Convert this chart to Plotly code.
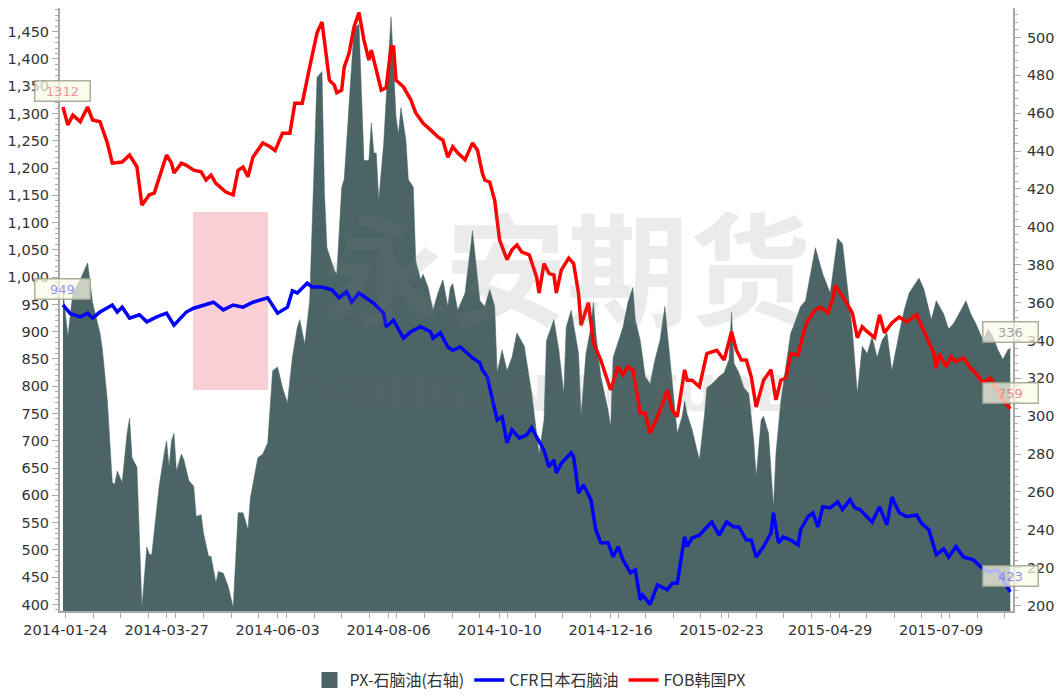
import plotly.graph_objects as go

# x positions are trading-day indices (0 = 2014-01-24)
tick_idx = [1, 42, 87, 132, 177, 222, 267, 311, 356]
tick_labels = ["2014-01-24", "2014-03-27", "2014-06-03", "2014-08-06", "2014-10-10",
               "2014-12-16", "2015-02-23", "2015-04-29", "2015-07-09"]

# PX - naphtha spread (right axis)
spread_t = [0, 2, 4, 7, 10, 12, 15, 16, 18, 20, 21, 22, 24, 25, 26, 27, 28, 30, 31, 32, 34, 35, 36, 38, 39,
            41, 42, 43, 44, 45, 46, 48, 49, 51, 53, 54, 56, 57, 59, 60, 62, 63, 65, 67, 69, 71, 73, 75, 76,
            77, 79, 81, 83, 85, 87, 89, 91, 93, 95, 96, 98, 100, 103, 105, 106, 107, 110, 111, 113, 114, 116,
            118, 120, 121, 122, 124, 125, 126, 127, 128, 130, 131, 133, 135, 136, 137, 139, 140, 142, 143,
            145, 146, 148, 150, 152, 154, 156, 157, 158, 160, 163, 166, 168, 169, 171, 173, 175, 176, 178,
            180, 182, 184, 187, 190, 193, 195, 196, 199, 201, 203, 204, 206, 209, 210, 212, 214, 215, 216,
            218, 221, 222, 223, 227, 229, 231, 232, 234, 236, 238, 240, 242, 244, 245, 247, 249, 251, 252,
            253, 255, 257, 258, 260, 261, 263, 266, 268, 270, 271, 272, 274, 276, 278, 280, 281, 283, 284,
            286, 288, 289, 291, 293, 295, 296, 299, 301, 305, 308, 311, 314, 316, 318, 320, 322, 324, 326,
            328, 330, 332, 334, 336, 339, 341, 343, 347, 349, 351, 352, 354, 357, 359, 361, 364, 366, 368,
            370, 373, 375, 377, 379, 381, 383, 384]
spread_v = [366, 342, 365, 372, 381, 360, 344, 335, 308, 265, 264, 271, 265, 278, 291, 299, 278, 273, 238,
            199, 231, 227, 227, 249, 263, 280, 287, 273, 287, 291, 271, 280, 277, 266, 263, 247, 248, 238,
            226, 226, 212, 218, 217, 210, 199, 249, 249, 240, 257, 264, 278, 280, 286, 324, 326, 315, 307,
            331, 347, 351, 338, 361, 479, 482, 418, 389, 377, 375, 421, 425, 467, 505, 507, 467, 435, 435,
            455, 439, 439, 414, 444, 467, 511, 458, 449, 463, 446, 425, 421, 382, 372, 375, 368, 356, 365,
            372, 358, 368, 370, 356, 365, 398, 375, 361, 358, 367, 358, 323, 335, 324, 331, 344, 337, 312,
            280, 298, 340, 351, 335, 312, 347, 356, 333, 300, 333, 347, 360, 344, 321, 303, 294, 331, 347,
            360, 368, 351, 340, 321, 317, 330, 340, 358, 344, 317, 291, 300, 308, 301, 293, 282, 277, 300,
            315, 317, 321, 323, 330, 355, 328, 323, 315, 312, 287, 268, 298, 300, 291, 252, 280, 308, 326,
            344, 347, 358, 361, 389, 375, 365, 394, 391, 368, 345, 312, 337, 333, 342, 331, 340, 344, 324,
            344, 356, 365, 373, 367, 356, 351, 361, 354, 346, 349, 356, 361, 354, 349, 340, 346, 342, 335,
            330, 335, 336]

# CFR Japan naphtha (left axis)
cfr_t = [0, 3, 7, 10, 12, 15, 20, 22, 24, 27, 31, 34, 38, 42, 45, 47, 50, 53, 57, 61, 65, 69, 73, 77, 83,
         87, 91, 93, 95, 99, 101, 105, 109, 112, 115, 117, 120, 123, 126, 130, 131, 134, 138, 141, 145, 149,
         150, 153, 156, 158, 161, 164, 166, 169, 170, 172, 174, 176, 178, 180, 182, 185, 188, 190, 192, 195,
         197, 199, 200, 202, 206, 207, 209, 211, 214, 216, 218, 221, 223, 225, 227, 230, 232, 234, 235, 238,
         241, 245, 247, 249, 252, 253, 255, 258, 261, 263, 266, 269, 272, 274, 277, 279, 281, 284, 287, 288,
         290, 292, 295, 298, 299, 302, 304, 306, 308, 311, 314, 316, 319, 321, 323, 326, 328, 331, 334, 336,
         339, 342, 346, 348, 351, 354, 357, 359, 362, 365, 369, 372, 375, 379, 381, 384]
cfr_v = [949, 933, 927, 934, 925, 936, 949, 936, 945, 925, 931, 918, 927, 934, 912, 921, 936, 943, 949,
         954, 940, 949, 945, 954, 962, 934, 945, 975, 971, 989, 982, 982, 977, 962, 973, 954, 971, 962, 952,
         934, 909, 921, 888, 900, 909, 900, 888, 898, 872, 866, 872, 860, 852, 843, 830, 817, 775, 738, 744,
         696, 720, 705, 711, 724, 707, 683, 652, 665, 641, 659, 678, 670, 604, 619, 592, 537, 513, 513, 487,
         506, 482, 458, 463, 408, 417, 400, 436, 427, 439, 439, 524, 506, 522, 527, 542, 551, 527, 551, 542,
         542, 518, 518, 487, 506, 531, 568, 513, 524, 518, 509, 537, 561, 568, 542, 579, 577, 588, 574, 592,
         577, 574, 561, 551, 579, 546, 597, 568, 561, 564, 549, 537, 491, 502, 487, 506, 487, 482, 469, 460,
         463, 445, 423]

# FOB Korea PX (left axis)
fob_t = [0, 2, 4, 7, 10, 12, 15, 18, 20, 24, 27, 30, 32, 35, 37, 39, 42, 44, 45, 48, 50, 53, 56, 58, 60,
         62, 64, 66, 69, 71, 73, 75, 77, 81, 84, 86, 89, 92, 94, 97, 100, 103, 105, 108, 110, 111, 113, 114,
         116, 118, 120, 122, 124, 125, 127, 129, 131, 133, 134, 135, 138, 141, 143, 146, 149, 152, 154, 156,
         158, 160, 163, 166, 168, 170, 171, 173, 175, 177, 180, 182, 184, 186, 189, 192, 193, 195, 197, 199,
         200, 202, 205, 207, 209, 210, 213, 215, 218, 222, 225, 227, 229, 231, 234, 236, 238, 241, 245, 247,
         249, 252, 253, 255, 258, 261, 265, 268, 271, 273, 275, 277, 279, 281, 284, 287, 289, 291, 293, 295,
         298, 300, 302, 305, 307, 310, 312, 313, 315, 317, 320, 322, 324, 326, 329, 331, 333, 336, 339, 342,
         346, 348, 350, 353, 354, 355, 358, 360, 362, 365, 368, 370, 373, 376, 379, 381, 384]
fob_v = [1312, 1279, 1297, 1285, 1312, 1288, 1285, 1246, 1209, 1211, 1224, 1202, 1132, 1151, 1154, 1184,
         1224, 1209, 1191, 1209, 1205, 1196, 1193, 1178, 1187, 1172, 1165, 1156, 1151, 1196, 1202, 1184,
         1220, 1246, 1239, 1232, 1264, 1264, 1319, 1319, 1385, 1448, 1468, 1361, 1352, 1338, 1343, 1385,
         1411, 1459, 1485, 1435, 1398, 1416, 1380, 1343, 1347, 1422, 1422, 1361, 1349, 1325, 1301, 1282,
         1270, 1257, 1251, 1220, 1239, 1228, 1215, 1246, 1233, 1191, 1178, 1174, 1141, 1068, 1032, 1050,
         1059, 1046, 1041, 1000, 971, 1025, 1007, 1004, 971, 1013, 1035, 1025, 970, 912, 953, 880, 848, 793,
         836, 821, 836, 830, 751, 751, 714, 744, 793, 756, 744, 830, 811, 811, 799, 860, 866, 848, 900, 866,
         848, 848, 817, 762, 811, 830, 775, 811, 815, 860, 857, 896, 921, 940, 945, 934, 960, 985, 971, 958,
         934, 889, 909, 900, 889, 931, 898, 916, 927, 918, 931, 909, 891, 860, 833, 860, 836, 854, 845, 852,
         833, 824, 806, 815, 790, 775, 759]

AREA = "#4b6465"
TICKFONT = dict(family="DejaVu Sans", size=14.5, color="#333333")
AXISGREY = "#a8a8a8"
NAMES = ["PX-石脑油(右轴)", "CFR日本石脑油", "FOB韩国PX"]

fig = go.Figure()
fig.add_trace(go.Scatter(x=spread_t, y=spread_v, mode="lines", fill="tozeroy", fillcolor=AREA,
                         line=dict(color=AREA, width=0.5), name=NAMES[0], yaxis="y",
                         showlegend=False, legendgroup="a"))
# legend entry (square swatch) for the area series
fig.add_trace(go.Scatter(x=[None], y=[None], mode="markers", name=NAMES[0], legendgroup="a",
                         marker=dict(symbol="square", size=19, color=AREA), yaxis="y"))
fig.add_trace(go.Scatter(x=cfr_t, y=cfr_v, mode="lines", line=dict(color="#0000ff", width=3.5),
                         name=NAMES[1], yaxis="y2"))
fig.add_trace(go.Scatter(x=fob_t, y=fob_v, mode="lines", line=dict(color="#ff0000", width=3.5),
                         name=NAMES[2], yaxis="y2"))

def px_x(p):
    return (p - 60) / 953.0

def px_y(p):
    return (611 - p) / 603.0

# watermark
fig.add_shape(type="rect", xref="paper", yref="paper", x0=px_x(193), x1=px_x(268), y0=px_y(390),
              y1=px_y(212), fillcolor="rgba(238,130,145,0.38)", line=dict(width=0), layer="below")
annotations = [
    dict(text="<b>永安期货</b>", xref="paper", yref="paper", x=px_x(567), y=px_y(262), showarrow=False,
         font=dict(family="Noto Sans CJK SC", size=122, color="rgba(120,120,120,0.15)")),
    dict(text="<b>YONGAN FUTURES</b>", xref="paper", yref="paper", x=px_x(567), y=px_y(425),
         showarrow=False, font=dict(family="DejaVu Sans", size=50, color="rgba(110,110,110,0.14)")),
]

def value_box(xv, yv, yref, color):
    return dict(x=xv, y=yv, xref="x", yref=yref, text=str(yv), showarrow=False, yshift=16,
                bgcolor="rgba(250,250,232,0.72)", bordercolor="rgba(160,160,140,0.85)", borderwidth=1.5,
                borderpad=2, width=50, font=dict(family="DejaVu Sans", size=13, color=color))

annotations += [
    value_box(fob_t[0], fob_v[0], "y2", "rgba(235,120,120,0.8)"),
    value_box(cfr_t[0], cfr_v[0], "y2", "rgba(120,120,240,0.8)"),
    value_box(spread_t[-1], spread_v[-1], "y", "rgba(150,150,150,0.9)"),
    value_box(fob_t[-1], fob_v[-1], "y2", "rgba(235,120,120,0.85)"),
    value_box(cfr_t[-1], cfr_v[-1], "y2", "rgba(120,120,240,0.85)"),
]

fig.update_layout(
    width=1060, height=696,
    margin=dict(l=60, r=47, t=8, b=85),
    paper_bgcolor="white", plot_bgcolor="white",
    showlegend=True,
    legend=dict(orientation="h", x=0.5, xanchor="center", xref="container",
                y=(696 - 680) / 696, yanchor="middle", yref="container",
                font=dict(family="Noto Sans CJK SC", size=16, color="#333333"),
                traceorder="normal", itemsizing="trace"),
    annotations=annotations,
    xaxis=dict(range=[-1.2, 385.1], tickmode="array", tickvals=tick_idx, ticktext=tick_labels,
               ticks="outside", ticklen=5, tickcolor=AXISGREY, showline=True, linecolor=AXISGREY,
               linewidth=2, showgrid=False, zeroline=False, tickfont=TICKFONT, automargin=False,
               minor=dict(ticks="outside", ticklen=5, dtick=11.2, tick0=1, tickcolor=AXISGREY)),
    yaxis=dict(side="right", range=[197.1, 515.6], tick0=200, dtick=20, ticks="outside", ticklen=6,
               tickcolor=AXISGREY, showline=True, linecolor=AXISGREY, linewidth=2, showgrid=False,
               zeroline=False, tickfont=TICKFONT, ticklabelstandoff=3, automargin=False,
               minor=dict(ticks="outside", ticklen=3, dtick=4, tickcolor=AXISGREY)),
    yaxis2=dict(side="left", overlaying="y", range=[388, 1493.4], tick0=400, dtick=50, tickformat=",d",
                ticks="outside", ticklen=6, tickcolor=AXISGREY, showline=True, linecolor=AXISGREY,
                linewidth=2, showgrid=False, zeroline=False, tickfont=TICKFONT, automargin=False,
                minor=dict(ticks="outside", ticklen=3, dtick=10, tickcolor=AXISGREY)),
)

fig.write_html("out.html", config={"displayModeBar": False},
               post_script="document.body.style.margin='0px';document.body.style.overflow='hidden';")
